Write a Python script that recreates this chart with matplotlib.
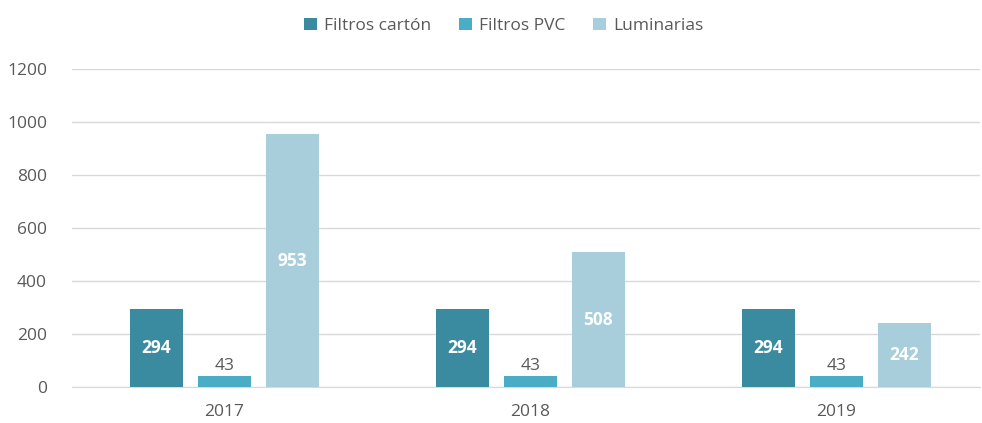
import matplotlib.pyplot as plt
import numpy as np

years = ["2017", "2018", "2019"]
series_names = ["Filtros cartón", "Filtros PVC", "Luminarias"]
filtros_carton = [294, 294, 294]
filtros_pvc = [43, 43, 43]
luminarias = [953, 508, 242]

colors = ["#3B8BA0", "#4BACC6", "#A8CEDC"]

plt.rcParams["font.family"] = ["Open Sans", "DejaVu Sans"]

fig = plt.figure(figsize=(9.82, 4.23), dpi=100)
ax = fig.add_axes([0.0733, 0.085, 0.925, 0.752])

x = np.arange(len(years))
width = 0.173
offset = 0.222

all_series = [filtros_carton, filtros_pvc, luminarias]
for i, (vals, name, c) in enumerate(zip(all_series, series_names, colors)):
    pos = x + (i - 1) * offset
    bars = ax.bar(pos, vals, width=width, color=c, label=name, zorder=3)
    for b, v in zip(bars, vals):
        if i == 1:
            ax.text(b.get_x() + b.get_width() / 2, v + 6, str(v),
                    ha="center", va="bottom", color="#595959", fontsize=12.5)
        else:
            ax.text(b.get_x() + b.get_width() / 2, v / 2, str(v),
                    ha="center", va="center", color="white",
                    fontsize=12.5, fontweight="bold")

ax.set_xlim(-0.497, 2.47)
ax.set_ylim(0, 1200)
ax.set_yticks(range(0, 1201, 200))
ax.set_xticks(x)
ax.set_xticklabels(years)
ax.tick_params(colors="#595959", labelsize=12.5, length=0)
ax.tick_params(axis="y", pad=18)
ax.tick_params(axis="x", pad=12)
ax.grid(axis="y", color="#D9D9D9", linewidth=1, zorder=0)
for s in ["top", "right", "left"]:
    ax.spines[s].set_visible(False)
ax.spines["bottom"].set_color("#D9D9D9")

fig.legend(loc="upper center", bbox_to_anchor=(0.513, 0.995), ncol=3,
           frameon=False, fontsize=12.5, labelcolor="#595959",
           handlelength=0.75, handleheight=0.75, columnspacing=1.6,
           handletextpad=0.4)

fig.savefig("out.png", dpi=100)
